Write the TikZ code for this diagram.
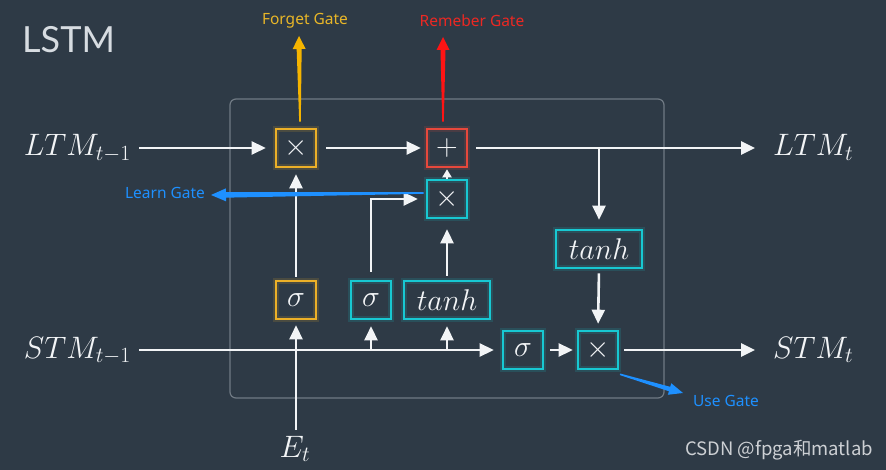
\documentclass[tikz,border=0pt]{standalone}
\usepackage{fix-cm}
\usepackage[no-math]{fontspec}
\usetikzlibrary{arrows.meta,calc}
\newfontfamily\titlefont{Lato}
\newfontfamily\labelfont{Noto Sans}
\newfontfamily\cjkfont{Noto Sans CJK SC}
\definecolor{bg}{RGB}{46,58,70}
\definecolor{framecol}{RGB}{112,122,132}
\definecolor{fg}{RGB}{242,244,246}
\definecolor{titlecol}{RGB}{215,220,225}
\definecolor{goldb}{RGB}{236,176,40}
\definecolor{goldtxt}{RGB}{232,182,40}
\definecolor{goldarr}{RGB}{245,180,0}
\definecolor{redb}{RGB}{232,72,60}
\definecolor{redtxt}{RGB}{235,40,35}
\definecolor{redarr}{RGB}{255,20,20}
\definecolor{cyanb}{RGB}{24,200,210}
\definecolor{gateblue}{RGB}{30,144,255}
\definecolor{wmcol}{RGB}{205,208,212}
\newcommand\taperarrow[7]{%
  \path ($(#3)!#7!(#2)$) coordinate (tb);
  \fill[#1] ($(#2)!#4!90:(#3)$) -- ($(tb)!#5!-90:(#2)$) -- ($(tb)!#6!-90:(#2)$) -- (#3)
    -- ($(tb)!#6!90:(#2)$) -- ($(tb)!#5!90:(#2)$) -- ($(#2)!#4!-90:(#3)$) -- cycle;}
\tikzset{
  gatebox/.style={draw=#1, line width=2.6pt, minimum width=40pt, minimum height=38pt,
    inner sep=0pt, text=fg, font=\fontsize{30}{30}\selectfont,
    preaction={draw=#1, line width=6pt, opacity=0.15}},
  mathlbl/.style={text=fg, font=\fontsize{31}{31}\selectfont, inner xsep=8pt, inner ysep=2pt},
  arr/.style={draw=fg, line width=2.6pt, -{Triangle[length=14pt,width=13pt]}},
  smallarr/.style={draw=fg, line width=2.4pt, -{Triangle[length=8pt,width=9pt]}},
  gatelbl/.style={font=\labelfont\fontsize{15.5}{15.5}\selectfont, inner sep=0pt}
}
\begin{document}
\begin{tikzpicture}[x=1pt,y=-1pt]
\fill[bg] (0,0) rectangle (886,470);
\useasboundingbox (0,0) rectangle (886,470);

% frame
\node[draw=framecol, line width=1.2pt, rounded corners=6pt, minimum width=434pt,
  minimum height=299pt, inner sep=0pt] (cell) at (447,248.5) {};

% title
\node[anchor=base west, text=titlecol, font=\titlefont\fontsize{36}{36}\selectfont,
  inner sep=0pt] (title) at (22,53) {LSTM};

% gates
\node[gatebox=goldb] (fgx) at (296,148) {$\times$};
\node[gatebox=redb] (plus) at (447,148) {$+$};
\node[gatebox=cyanb] (xL) at (447,199) {$\times$};
\node[gatebox=goldb] (sigF) at (296,300) {$\sigma$};
\node[gatebox=cyanb] (sigL) at (371,300) {$\sigma$};
\node[gatebox=cyanb, minimum width=86pt] (tanhL) at (447,300) {$tanh$};
\node[gatebox=cyanb, minimum width=86pt] (tanhU) at (599,249) {$tanh$};
\node[gatebox=cyanb] (sigU) at (523,350) {$\sigma$};
\node[gatebox=cyanb] (xU) at (598,350) {$\times$};

% math labels
\node[mathlbl, anchor=base east] (ltm1) at (139,156) {$LTM_{t-1}$};
\node[mathlbl, anchor=base west] (ltmt) at (765,156) {$LTM_t$};
\node[mathlbl, anchor=base east] (stm1) at (139,358) {$STM_{t-1}$};
\node[mathlbl, anchor=base west] (stmt) at (765,358) {$STM_t$};
\node[mathlbl, anchor=base] (et) at (295,457) {$E_t$};

% connectors
\draw[arr, shorten >=9pt] (ltm1.east |- fgx.west) -- (fgx.west);
\draw[arr, shorten <=9pt, shorten >=5pt] (fgx.east) -- (plus.west);
\draw[arr, shorten <=8pt, shorten >=10pt] (plus.east) -- (ltmt.west |- plus.east);
\coordinate (br) at (tanhU.north |- plus.east);
\draw[arr, shorten >=9pt] (br) -- (tanhU.north);
\draw[arr, shorten <=4pt, shorten >=6pt] (tanhU.south) -- (xU.north);
\draw[arr, shorten >=8pt] (stm1.east |- sigU.west) -- (sigU.west);
\coordinate (jL) at (sigL.south |- sigU.west);
\coordinate (jT) at (tanhL.south |- sigU.west);
\draw[arr, shorten >=6pt] (jL) -- (sigL.south);
\draw[arr, shorten >=6pt] (jT) -- (tanhL.south);
\draw[arr, shorten <=6pt, shorten >=4pt] (sigU.east) -- (xU.west);
\draw[arr, shorten <=5pt, shorten >=10pt] (xU.east) -- (stmt.west |- xU.east);
\draw[arr, shorten <=4pt, shorten >=5pt] (sigF.south |- et.north) -- (sigF.south);
\draw[arr, shorten <=3pt, shorten >=6pt] (sigF.north) -- (fgx.south);
\draw[arr, shorten <=8pt, shorten >=8pt] (sigL.north) |- (xL.west);
\draw[arr, shorten <=4pt, shorten >=10pt] (tanhL.north) -- (xL.south);
\draw[smallarr, shorten >=1pt] (xL.north) -- (plus.south);

% gate labels
\node[gatelbl, text=goldtxt] (fgl) at (305,21) {Forget Gate};
\node[gatelbl, text=redtxt] (rgl) at (472,21) {Remeber Gate};
\node[gatelbl, text=gateblue] (lgl) at (165,193) {Learn Gate};
\node[gatelbl, text=gateblue] (ugl) at (726,401) {Use Gate};

% annotation arrows
\coordinate (fgs) at ($(fgx.north)+(4,-6)$);
\coordinate (fgtip) at (299,36);
\taperarrow{goldarr}{fgs}{fgtip}{0.8pt}{2.5pt}{6.5pt}{13pt}
\coordinate (rgs) at ($(plus.north)+(-4,-6)$);
\coordinate (rgtip) at (443,37);
\taperarrow{redarr}{rgs}{rgtip}{0.8pt}{2.5pt}{6.5pt}{13pt}
\coordinate (lgs) at ($(xL.west)+(-2,-6)$);
\coordinate (lgtip) at (211,195);
\taperarrow{gateblue}{lgs}{lgtip}{0.8pt}{2.8pt}{6.5pt}{15pt}
\coordinate (ugs) at ($(xU.south)+(22,4)$);
\coordinate (ugtip) at (683,393);
\taperarrow{gateblue}{ugs}{ugtip}{0.8pt}{2.3pt}{6pt}{14pt}

% watermark
\node[font=\cjkfont\fontsize{18.5}{18.5}\selectfont, text=wmcol, inner sep=0pt] (wm) at (779,450) {CSDN @fpga和matlab};
\end{tikzpicture}
\end{document}
